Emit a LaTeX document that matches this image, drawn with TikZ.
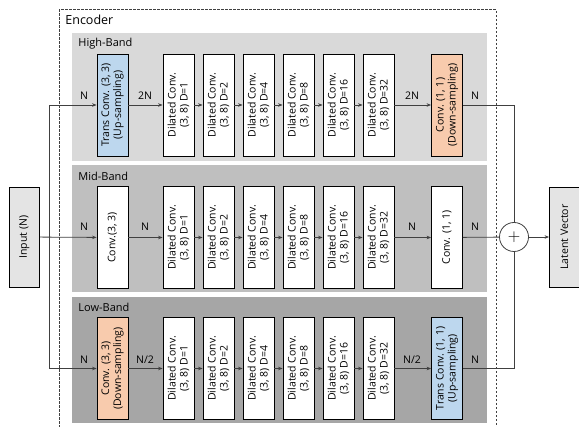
\documentclass[tikz,border=0pt]{standalone}
\usepackage{fontspec}
\setmainfont{Open Sans}
\usetikzlibrary{arrows.meta}
\definecolor{hiband}{HTML}{D9D9D9}
\definecolor{midband}{HTML}{BFBFBF}
\definecolor{lowband}{HTML}{A6A6A6}
\definecolor{upblue}{HTML}{BDD7EE}
\definecolor{downorange}{HTML}{F8CBAD}
\definecolor{wire}{HTML}{404040}
\begin{document}
\begin{tikzpicture}[x=1pt,y=-1pt,>={Stealth[length=4.5pt,width=3.5pt]},line width=0.8pt,font=\fontsize{10.5}{12}\selectfont]
  \tikzstyle{blk}=[draw=black, fill=white, rotate=90, minimum width=102pt, minimum height=31pt, inner sep=0.5pt, align=center]
  \tikzstyle{side}=[draw=black, fill=hiband!70, rotate=90, minimum width=100pt, minimum height=30pt, inner sep=1pt, align=center]
  \tikzstyle{lbl}=[inner sep=0pt]
  \tikzstyle{title}=[anchor=west, inner sep=0pt, font=\fontsize{11}{13}\selectfont]
  \useasboundingbox (0,0) rectangle (579,427);

  % encoder frame and band panels
  \draw[wire, line width=1pt, dash pattern=on 2.5pt off 1.5pt] (59,440) -- (59,10) -- (496,10) -- (496,440);
  \node[title, font=\fontsize{12.5}{14}\selectfont] (enc) at (65,20) {Encoder};
  \fill[hiband] (72,33) rectangle (487,161);
  \fill[midband] (72,165) rectangle (487,292);
  \fill[lowband] (72,297) rectangle (487,423);
  \node[title] (hb_t) at (78,44) {High-Band};
  \node[title] (mb_t) at (78,176) {Mid-Band};
  \node[title] (lb_t) at (78,307) {Low-Band};

  % first and last layer of each band
  \node[blk, fill=upblue] (hb_c1) at (112.5,105) {Trans Conv. (3, 3)\\(Up-sampling)};
  \node[blk, fill=downorange] (hb_c2) at (447,105) {Conv. (1, 1)\\(Down-sampling)};
  \node[blk] (mb_c1) at (112.5,237.5) {Conv.(3, 3)};
  \node[blk] (mb_c2) at (447,237.5) {Conv. (1, 1)};
  \node[blk, fill=downorange] (lb_c1) at (112.5,368.5) {Conv. (3, 3)\\(Down-sampling)};
  \node[blk, fill=upblue] (lb_c2) at (447,368.5) {Trans Conv. (1, 1)\\(Up-sampling)};

  % dilated stacks
  \foreach \band/\y in {hb/105,mb/237.5,lb/368.5} {
    \foreach \i/\d in {1/1,2/2,3/4,4/8,5/16,6/32}
      \node[blk] (\band_d\i) at (138.5+40*\i,\y) {Dilated Conv.\\(3, 8) D=\d};
    \foreach \a/\b in {c1/d1,d1/d2,d2/d3,d3/d4,d4/d5,d5/d6,d6/c2}
      \draw[wire,->] (\band_\a) -- (\band_\b);
  }

  % input and output
  \node[side] (input) at (24.5,237) {Input (N)};
  \node[side] (latent) at (564.5,237) {Latent Vector};
  \node[draw=wire, circle, fill=white, minimum size=29pt, inner sep=0pt, font=\fontsize{16}{16}\selectfont] (sum) at (514,237) {$+$};
  \coordinate (split) at (49,237);

  \draw[wire,->] (input) -- (mb_c1);
  \draw[wire,->] (split) |- (hb_c1);
  \draw[wire,->] (split) |- (lb_c1);
  \draw[wire] (hb_c2) -| (sum);
  \draw[wire] (mb_c2) -- (sum);
  \draw[wire] (lb_c2) -| (sum);
  \draw[wire,->] (sum) -- (latent);

  % channel sizes
  \node[lbl] (hb_n1) at (84,96) {N};
  \node[lbl] (hb_n2) at (145,96) {2N};
  \node[lbl] (hb_n3) at (412,96) {2N};
  \node[lbl] (hb_n4) at (475,96) {N};
  \node[lbl] (mb_n1) at (84,227) {N};
  \node[lbl] (mb_n2) at (145,227) {N};
  \node[lbl] (mb_n3) at (412,227) {N};
  \node[lbl] (mb_n4) at (475,227) {N};
  \node[lbl] (lb_n1) at (84,360) {N};
  \node[lbl] (lb_n2) at (145,360) {N/2};
  \node[lbl] (lb_n3) at (412,360) {N/2};
  \node[lbl] (lb_n4) at (475,360) {N};
\end{tikzpicture}
\end{document}
